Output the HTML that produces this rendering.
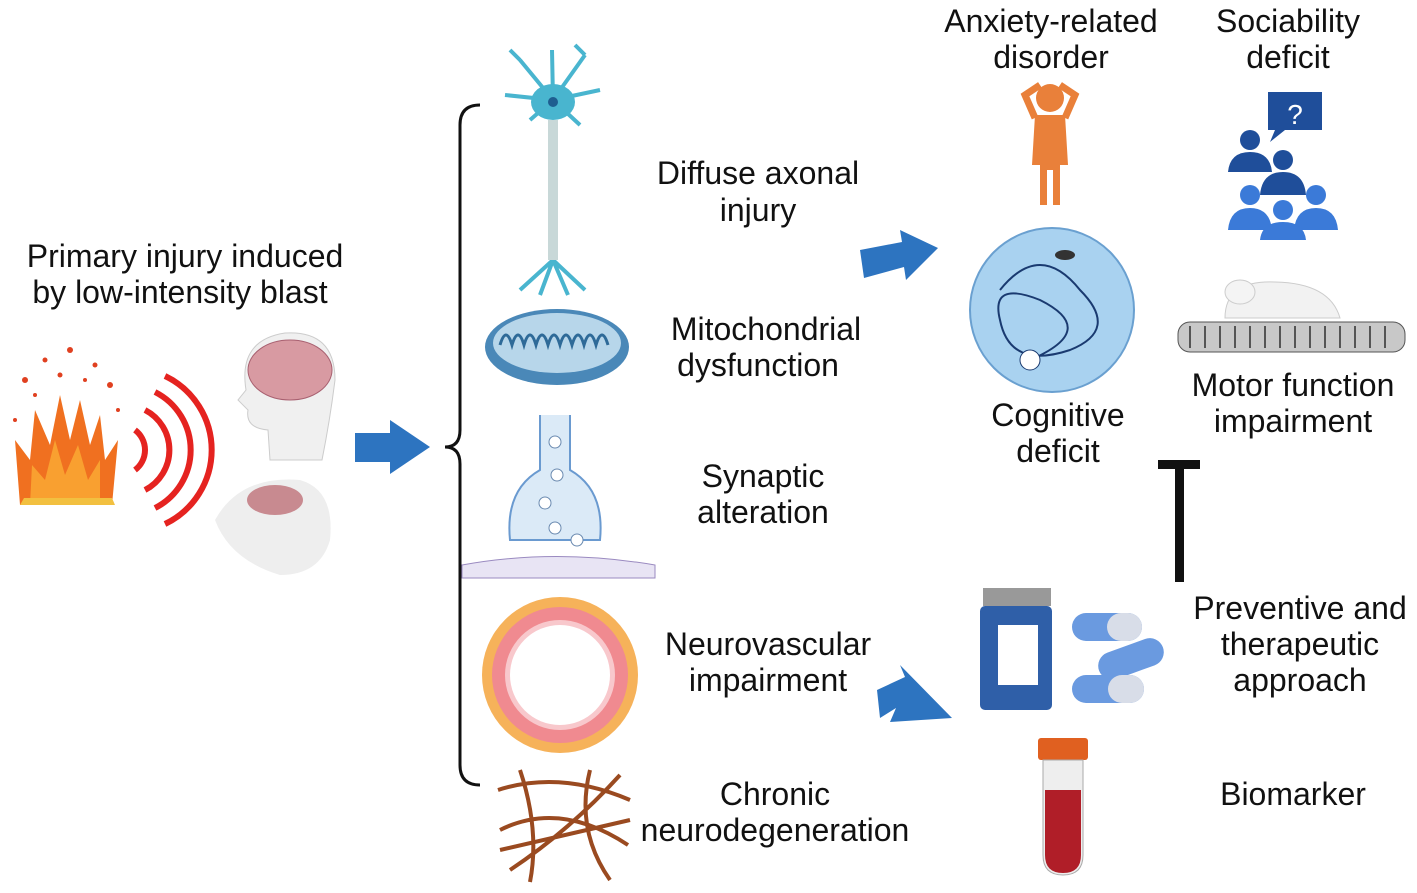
<!DOCTYPE html>
<html><head><meta charset="utf-8"><style>
html,body{margin:0;padding:0;background:#fff;}
svg{display:block;}
text{font-family:"Liberation Sans",sans-serif;font-size:32px;fill:#111;text-anchor:middle;}
</style></head><body>
<svg width="1417" height="893" viewBox="0 0 1417 893" xmlns="http://www.w3.org/2000/svg">
<text x="185" y="267">Primary injury induced</text>
<text x="180" y="303">by low-intensity blast</text>
<path d="M20 505 L15 440 L30 460 L35 410 L50 445 L60 395 L70 440 L80 400 L90 445 L100 415 L105 460 L118 440 L112 505 Z" fill="#f07020"/>
<path d="M30 505 L32 465 L45 480 L55 440 L65 475 L78 445 L88 480 L100 460 L100 505 Z" fill="#f9a030"/>
<path d="M20 505 L115 505 L112 498 L24 498Z" fill="#f2c040"/>
<g fill="#e04020">
<circle cx="25" cy="380" r="3"/><circle cx="45" cy="360" r="2.5"/><circle cx="70" cy="350" r="3"/><circle cx="95" cy="365" r="2.5"/><circle cx="110" cy="385" r="3"/><circle cx="35" cy="395" r="2"/><circle cx="85" cy="380" r="2"/><circle cx="60" cy="375" r="2.5"/><circle cx="15" cy="420" r="2"/><circle cx="118" cy="410" r="2"/>
</g>
<g fill="none" stroke="#e52320" stroke-width="6">
<path d="M135 430 A25 25 0 0 1 135 470"/>
<path d="M145 410 A45 45 0 0 1 145 490"/>
<path d="M155 392 A65 65 0 0 1 155 508"/>
<path d="M165 376 A82 82 0 0 1 165 524"/>
</g>
<path d="M270 460 L268 430 Q245 428 248 410 L238 400 L246 390 Q238 340 285 333 Q335 330 335 380 Q330 420 322 460 Z" fill="#f0f0f0" stroke="#ccc"/>
<ellipse cx="290" cy="370" rx="42" ry="30" fill="#d89aa2" stroke="#a86070"/>
<path d="M215 520 Q240 475 300 480 Q335 490 330 540 Q320 575 280 575 Q230 560 215 520Z" fill="#eee"/>
<ellipse cx="275" cy="500" rx="28" ry="15" fill="#c88a90"/>
<path d="M355 433 L390 433 L390 420 L430 447 L390 474 L390 462 L355 462Z" fill="#2d74c0"/>
<path d="M480 105 Q460 105 460 125 L460 430 Q460 447 445 447 Q460 447 460 464 L460 765 Q460 785 480 785" fill="none" stroke="#111" stroke-width="3"/>
<g stroke="#49b5cf" stroke-width="4" fill="none">
<path d="M553 100 L520 60 M553 100 L585 55 M553 100 L505 95 M553 100 L600 90 M553 100 L530 120 M553 100 L580 125 M520 60 L510 50 M585 55 L575 45 M553 100 L552 50"/>
<path d="M553 260 L520 290 M553 260 L585 290 M553 260 L540 295 M553 260 L568 295"/>
</g>
<ellipse cx="553" cy="102" rx="22" ry="18" fill="#49b5cf"/>
<circle cx="553" cy="102" r="5" fill="#1e5e90"/>
<rect x="548" y="120" width="10" height="140" fill="#c8d8d8"/>
<ellipse cx="557" cy="347" rx="72" ry="38" fill="#4a88b8"/>
<ellipse cx="557" cy="343" rx="64" ry="30" fill="#b7d6ea"/>
<path d="M500 345 q6 -20 12 0 q6 -20 12 0 q6 -20 12 0 q6 -20 12 0 q6 -20 12 0 q6 -20 12 0 q6 -20 12 0 q6 -20 12 0 q6 -20 12 0" fill="none" stroke="#2e6a98" stroke-width="3"/>
<path d="M540 415 L540 470 Q505 490 510 540 L600 540 Q605 490 570 470 L570 415" fill="#dbeaf7" stroke="#6a9ad0" stroke-width="2"/>
<g fill="#fff" stroke="#6a8ab0"><circle cx="555" cy="442" r="6"/><circle cx="557" cy="475" r="6"/><circle cx="545" cy="503" r="6"/><circle cx="555" cy="528" r="6"/><circle cx="577" cy="540" r="6"/></g>
<path d="M462 565 Q555 548 655 565 L655 578 L462 578Z" fill="#e8e4f4" stroke="#9a8ac0"/>
<circle cx="560" cy="675" r="78" fill="#f6b25a"/>
<circle cx="560" cy="675" r="68" fill="#f08a90"/>
<circle cx="560" cy="675" r="55" fill="#f8c8cc"/>
<circle cx="560" cy="675" r="50" fill="#fff"/>
<g stroke="#9a4a20" stroke-width="4" fill="none">
<path d="M498 790 Q560 770 630 800 M500 830 Q560 800 628 845 M510 870 Q570 830 620 775 M520 770 Q540 830 530 882 M590 770 Q575 830 610 880 M500 850 L630 820"/>
</g>
<text x="758" y="184">Diffuse axonal</text><text x="758" y="221">injury</text>
<text x="766" y="340">Mitochondrial</text><text x="758" y="376">dysfunction</text>
<text x="763" y="487">Synaptic</text><text x="763" y="523">alteration</text>
<text x="768" y="655">Neurovascular</text><text x="768" y="691">impairment</text>
<text x="775" y="805">Chronic</text><text x="775" y="841">neurodegeneration</text>
<path d="M860 250 L902 242 L900 230 L938 248 L906 280 L904 267 L864 278Z" fill="#2d74c0"/>
<path d="M877 690 L905 677 L900 665 L952 718 L890 722 L896 708 L880 718Z" fill="#2d74c0"/>
<text x="1051" y="32">Anxiety-related</text><text x="1051" y="68">disorder</text>
<text x="1288" y="32">Sociability</text><text x="1288" y="68">deficit</text>
<g fill="#e9803a">
<circle cx="1050" cy="98" r="14"/>
<path d="M1035 115 L1065 115 L1068 165 L1060 165 L1060 205 L1053 205 L1053 170 L1047 170 L1047 205 L1040 205 L1040 165 L1032 165Z"/>
<path d="M1035 118 L1025 95 L1040 85 M1065 118 L1075 95 L1060 85" stroke="#e9803a" stroke-width="7" fill="none"/>
</g>
<rect x="1268" y="92" width="54" height="38" fill="#1f4e9a"/>
<path d="M1275 130 L1270 142 L1285 130Z" fill="#1f4e9a"/>
<text x="1295" y="124" style="fill:#fff;font-size:28px">?</text>
<g fill="#1f4e9a"><circle cx="1250" cy="140" r="10"/><path d="M1228 172 Q1230 152 1250 152 Q1270 152 1272 172Z"/>
<circle cx="1283" cy="160" r="10"/><path d="M1260 195 Q1262 172 1283 172 Q1304 172 1306 195Z"/></g>
<g fill="#3b7ad8"><circle cx="1250" cy="195" r="10"/><path d="M1228 230 Q1230 208 1250 208 Q1270 208 1272 230Z"/>
<circle cx="1316" cy="195" r="10"/><path d="M1294 230 Q1296 208 1316 208 Q1336 208 1338 230Z"/>
<circle cx="1283" cy="210" r="10"/><path d="M1260 240 Q1262 222 1283 222 Q1304 222 1306 240Z"/></g>
<circle cx="1052" cy="310" r="82" fill="#a9d2f0" stroke="#6aa0d0" stroke-width="2"/>
<path d="M1000 290 Q1040 240 1080 290 Q1120 330 1070 350 Q1010 370 1000 320 Q990 280 1040 300 Q1100 330 1030 360" fill="none" stroke="#1a3a70" stroke-width="2"/>
<circle cx="1030" cy="360" r="10" fill="#fff" stroke="#1a3a70"/>
<ellipse cx="1065" cy="255" rx="10" ry="5" fill="#333"/>
<text x="1058" y="426">Cognitive</text><text x="1058" y="462">deficit</text>
<path d="M1225 318 Q1225 280 1275 282 Q1330 283 1340 318Z" fill="#f2f2f2" stroke="#ccc"/>
<ellipse cx="1240" cy="292" rx="15" ry="12" fill="#f4f4f4" stroke="#ccc"/>
<rect x="1178" y="322" width="227" height="30" rx="12" fill="#c8c8c8" stroke="#555"/>
<path d="M1190 326 v22 M1205 326 v22 M1220 326 v22 M1235 326 v22 M1250 326 v22 M1265 326 v22 M1280 326 v22 M1295 326 v22 M1310 326 v22 M1325 326 v22 M1340 326 v22 M1355 326 v22 M1370 326 v22 M1385 326 v22" stroke="#555" stroke-width="2"/>
<text x="1293" y="396">Motor function</text><text x="1293" y="432">impairment</text>
<rect x="1158" y="460" width="42" height="9" fill="#111"/>
<rect x="1175" y="460" width="9" height="122" fill="#111"/>
<rect x="983" y="588" width="68" height="18" fill="#999"/>
<rect x="980" y="606" width="72" height="104" rx="5" fill="#2f5fa8"/>
<rect x="998" y="625" width="40" height="60" fill="#fff"/>
<g><rect x="1072" y="613" width="70" height="28" rx="14" fill="#6a9ae0"/><rect x="1107" y="613" width="35" height="28" rx="14" fill="#d8dde8"/>
<rect x="1097" y="645" width="68" height="28" rx="14" fill="#6a9ae0" transform="rotate(-20 1131 659)"/>
<rect x="1072" y="675" width="72" height="28" rx="14" fill="#6a9ae0"/><rect x="1108" y="675" width="36" height="28" rx="14" fill="#d8dde8"/></g>
<text x="1300" y="619">Preventive and</text><text x="1300" y="655">therapeutic</text><text x="1300" y="691">approach</text>
<rect x="1038" y="738" width="50" height="22" rx="3" fill="#e06020"/>
<path d="M1043 760 L1083 760 L1083 855 Q1083 875 1063 875 Q1043 875 1043 855Z" fill="#eee" stroke="#aaa"/>
<path d="M1045 790 L1081 790 L1081 855 Q1081 873 1063 873 Q1045 873 1045 855Z" fill="#b01e28"/>
<text x="1293" y="805">Biomarker</text>
</svg>
</body></html>
